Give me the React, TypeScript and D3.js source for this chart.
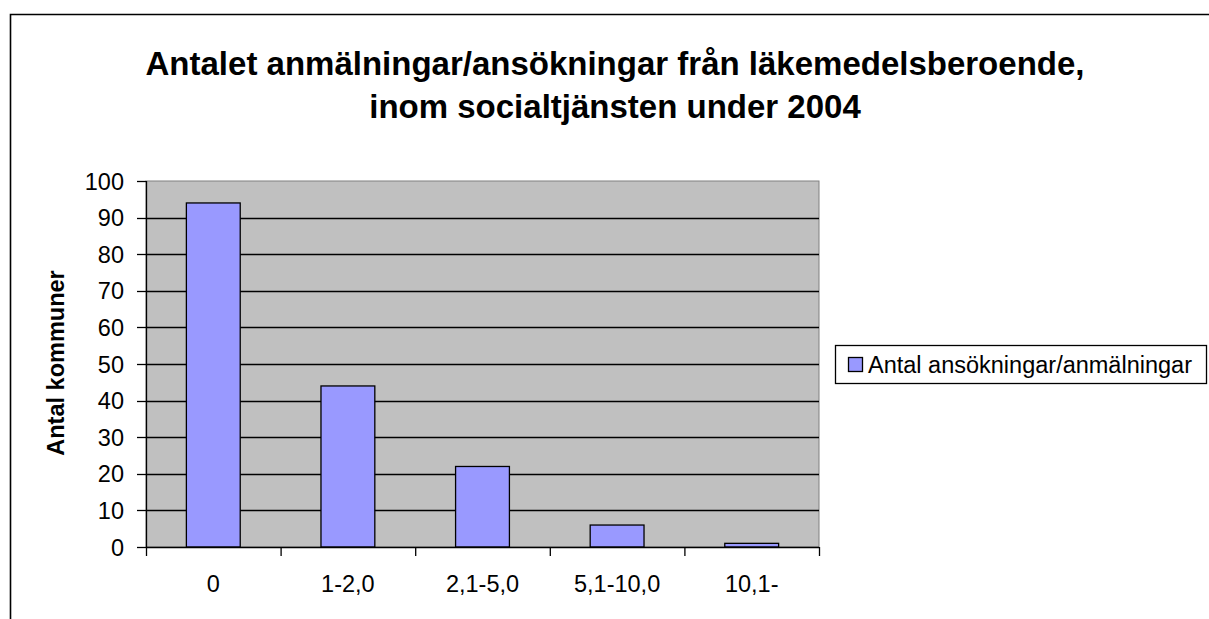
import React from 'react';
import * as d3 from 'd3';

// Data
const categories = ['0', '1-2,0', '2,1-5,0', '5,1-10,0', '10,1-'];
const kommuner = [94, 44, 22, 6, 1];
const yTicks = [0, 10, 20, 30, 40, 50, 60, 70, 80, 90, 100];

const titleLines = [
  'Antalet anmälningar/ansökningar från läkemedelsberoende,',
  'inom socialtjänsten under 2004',
];
const yTitle = 'Antal kommuner';
const legendLabel = 'Antal ansökningar/anmälningar';

const W = 1209;
const H = 619;
const plot = { left: 146, top: 181, right: 819, bottom: 547 };
const font = '"Liberation Sans", Arial, sans-serif';

export default function App() {
  const x = d3
    .scaleBand<string>()
    .domain(categories)
    .range([plot.left, plot.right])
    .paddingInner(0.6)
    .paddingOuter(0.3);
  // outer edges of each category (for the tick marks)
  const step = (plot.right - plot.left) / categories.length;
  const y = d3.scaleLinear().domain([0, 100]).range([plot.bottom, plot.top]);

  return (
    <svg
      width={W}
      height={H}
      style={{ position: 'absolute', left: 0, top: 0, display: 'block', background: '#fff' }}
    >
      {/* chart frame, cut off at right and bottom */}
      <path d={`M${W + 5},14.5 H10.5 V${H + 5}`} fill="none" stroke="#000" strokeWidth={1.6} />

      {/* title */}
      {titleLines.map((t, i) => (
        <text
          key={i}
          x={615}
          y={75 + i * 43}
          textAnchor="middle"
          fontFamily={font}
          fontWeight="bold"
          fontSize={33}
          fill="#000"
        >
          {t}
        </text>
      ))}

      {/* plot area */}
      <rect
        x={plot.left}
        y={plot.top}
        width={plot.right - plot.left}
        height={plot.bottom - plot.top}
        fill="#C0C0C0"
        stroke="#808080"
        strokeWidth={1}
      />

      {/* gridlines */}
      {yTicks.slice(1, -1).map((v) => (
        <line
          key={v}
          x1={plot.left}
          x2={plot.right}
          y1={Math.round(y(v)) + 0.5}
          y2={Math.round(y(v)) + 0.5}
          stroke="#000"
          strokeWidth={1.3}
        />
      ))}

      {/* bars */}
      {kommuner.map((v, i) => (
        <rect
          key={categories[i]}
          x={x(categories[i])!}
          y={y(v)}
          width={x.bandwidth()}
          height={plot.bottom - y(v)}
          fill="#9999FF"
          stroke="#000"
          strokeWidth={1.3}
        />
      ))}

      {/* y axis */}
      <line x1={plot.left + 0.5} x2={plot.left + 0.5} y1={plot.top} y2={plot.bottom} stroke="#000" strokeWidth={1.3} />
      {yTicks.map((v) => (
        <g key={v}>
          <line
            x1={plot.left - 9}
            x2={plot.left}
            y1={Math.round(y(v)) + 0.5}
            y2={Math.round(y(v)) + 0.5}
            stroke="#000"
            strokeWidth={1.3}
          />
          <text
            x={plot.left - 22}
            y={y(v) + 8.5}
            textAnchor="end"
            fontFamily={font}
            fontSize={23.5}
            fill="#000"
          >
            {v}
          </text>
        </g>
      ))}

      {/* x axis */}
      <line x1={plot.left} x2={plot.right} y1={plot.bottom + 0.5} y2={plot.bottom + 0.5} stroke="#000" strokeWidth={1.3} />
      {d3.range(categories.length + 1).map((i) => (
        <line
          key={i}
          x1={plot.left + i * step + 0.5}
          x2={plot.left + i * step + 0.5}
          y1={plot.bottom}
          y2={plot.bottom + 9}
          stroke="#000"
          strokeWidth={1.3}
        />
      ))}
      {categories.map((c) => (
        <text
          key={c}
          x={x(c)! + x.bandwidth() / 2}
          y={592}
          textAnchor="middle"
          fontFamily={font}
          fontSize={23.5}
          fill="#000"
        >
          {c}
        </text>
      ))}

      {/* y axis title */}
      <text
        transform={`translate(64,363) rotate(-90)`}
        textAnchor="middle"
        fontFamily={font}
        fontWeight="bold"
        fontSize={23.5}
        fill="#000"
      >
        {yTitle}
      </text>

      {/* legend */}
      <rect x={835.5} y={345.5} width={371} height={38} fill="#fff" stroke="#000" strokeWidth={1.3} />
      <rect x={848.5} y={357.5} width={14} height={14} fill="#9999FF" stroke="#000" strokeWidth={1.3} />
      <text x={868} y={373} fontFamily={font} fontSize={23.5} fill="#000">
        {legendLabel}
      </text>
    </svg>
  );
}
